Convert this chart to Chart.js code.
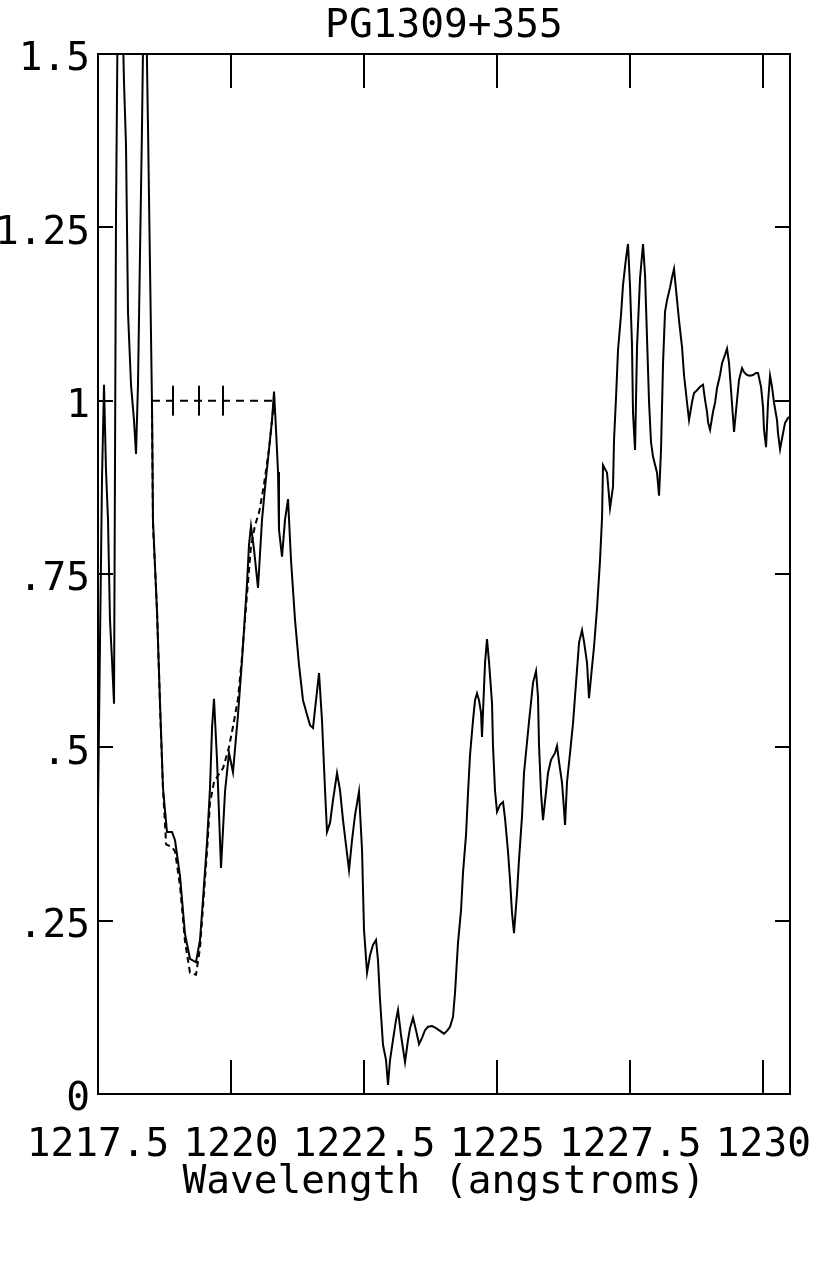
<!DOCTYPE html>
<html>
<head>
<meta charset="utf-8">
<script src="https://cdn.jsdelivr.net/npm/chart.js@4"></script>
<style>
html,body{margin:0;padding:0;background:#fff;}
#wrap{width:830px;height:1271px;position:relative;}
</style>
</head>
<body>
<div id="wrap"><canvas id="c"></canvas></div>
<script>
const chartTitle = 'PG1309+355';
const xAxisTitle = 'Wavelength (angstroms)';

const wavelength = [
1217.500,1217.538,1217.575,1217.613,1217.650,1217.688,1217.725,1217.763,1217.801,1217.838,
1217.876,1217.932,1217.988,1218.026,1218.064,1218.120,1218.176,1218.214,1218.251,1218.289,
1218.327,1218.364,1218.402,1218.439,1218.477,1218.514,1218.533,1218.608,1218.665,1218.721,
1218.796,1218.890,1218.947,1219.041,1219.134,1219.228,1219.341,1219.416,1219.473,1219.548,
1219.604,1219.642,1219.679,1219.736,1219.811,1219.886,1219.961,1220.036,1220.130,1220.205,
1220.299,1220.337,1220.374,1220.431,1220.506,1220.581,1220.637,1220.713,1220.769,1220.807,
1220.844,1220.882,1220.900,1220.957,1221.013,1221.070,1221.126,1221.201,1221.276,1221.351,
1221.427,1221.483,1221.539,1221.596,1221.652,1221.708,1221.765,1221.802,1221.859,1221.915,
1221.990,1222.047,1222.103,1222.159,1222.216,1222.272,1222.328,1222.403,1222.460,1222.497,
1222.554,1222.610,1222.666,1222.723,1222.760,1222.798,1222.854,1222.911,1222.948,1222.986,
1223.042,1223.099,1223.136,1223.192,1223.268,1223.324,1223.362,1223.418,1223.474,1223.531,
1223.587,1223.643,1223.700,1223.775,1223.850,1223.925,1224.000,1224.057,1224.113,1224.169,
1224.207,1224.263,1224.320,1224.357,1224.414,1224.451,1224.489,1224.545,1224.583,1224.620,
1224.658,1224.695,1224.714,1224.733,1224.771,1224.808,1224.846,1224.902,1224.921,1224.958,
1224.996,1225.052,1225.109,1225.146,1225.203,1225.240,1225.278,1225.315,1225.372,1225.409,
1225.466,1225.503,1225.560,1225.597,1225.635,1225.672,1225.729,1225.766,1225.785,1225.823,
1225.860,1225.917,1225.954,1226.011,1226.086,1226.123,1226.161,1226.217,1226.255,1226.274,
1226.311,1226.368,1226.424,1226.461,1226.499,1226.537,1226.593,1226.631,1226.687,1226.724,
1226.781,1226.818,1226.875,1226.931,1226.969,1226.987,1227.063,1227.119,1227.175,1227.194,
1227.232,1227.269,1227.326,1227.363,1227.420,1227.457,1227.495,1227.532,1227.551,1227.589,
1227.626,1227.683,1227.739,1227.777,1227.814,1227.852,1227.889,1227.927,1228.002,1228.040,
1228.077,1228.115,1228.152,1228.190,1228.246,1228.284,1228.321,1228.378,1228.415,1228.472,
1228.509,1228.566,1228.603,1228.660,1228.697,1228.753,1228.810,1228.866,1228.904,1228.941,
1228.960,1228.998,1229.054,1229.092,1229.129,1229.186,1229.223,1229.279,1229.317,1229.355,
1229.392,1229.430,1229.449,1229.505,1229.542,1229.599,1229.636,1229.693,1229.749,1229.805,
1229.862,1229.899,1229.956,1229.993,1230.012,1230.050,1230.087,1230.125,1230.162,1230.200,
1230.256,1230.275,1230.313,1230.369,1230.407,1230.463,1230.500
];
const flux = [
0.410,0.655,0.886,1.023,0.900,0.828,0.684,0.626,0.563,1.261,
1.620,1.660,1.460,1.369,1.127,1.023,0.972,0.923,1.023,1.212,
1.396,1.620,1.580,1.396,1.193,0.997,0.828,0.697,0.564,0.441,
0.378,0.378,0.366,0.314,0.231,0.195,0.190,0.222,0.281,0.363,
0.441,0.528,0.570,0.482,0.326,0.436,0.492,0.464,0.547,0.625,
0.736,0.792,0.819,0.785,0.730,0.828,0.874,0.930,0.972,1.013,
0.958,0.897,0.814,0.775,0.828,0.858,0.770,0.684,0.619,0.568,
0.547,0.532,0.528,0.568,0.607,0.539,0.438,0.378,0.391,0.424,
0.463,0.438,0.395,0.359,0.323,0.366,0.402,0.436,0.352,0.237,
0.175,0.200,0.215,0.222,0.193,0.136,0.071,0.049,0.013,0.049,
0.078,0.107,0.121,0.085,0.046,0.078,0.095,0.110,0.092,0.072,
0.081,0.092,0.097,0.098,0.095,0.091,0.087,0.091,0.097,0.111,
0.146,0.218,0.265,0.319,0.374,0.434,0.489,0.539,0.568,0.578,
0.568,0.550,0.515,0.551,0.622,0.656,0.623,0.564,0.501,0.438,
0.407,0.417,0.421,0.398,0.349,0.309,0.261,0.232,0.290,0.338,
0.401,0.463,0.508,0.537,0.565,0.593,0.610,0.573,0.503,0.434,
0.395,0.436,0.463,0.482,0.492,0.502,0.479,0.449,0.410,0.388,
0.450,0.492,0.535,0.573,0.612,0.651,0.669,0.652,0.622,0.571,
0.616,0.645,0.701,0.770,0.831,0.907,0.896,0.845,0.876,0.943,
1.005,1.073,1.124,1.167,1.206,1.226,1.164,1.080,0.982,0.929,
1.077,1.177,1.226,1.181,1.090,0.998,0.940,0.919,0.896,0.863,
0.929,1.054,1.128,1.145,1.163,1.178,1.190,1.145,1.116,1.077,
1.037,0.997,0.972,0.998,1.011,1.015,1.020,1.023,1.001,0.984,
0.969,0.958,0.984,0.997,1.018,1.037,1.054,1.066,1.075,1.054,
1.015,0.975,0.955,1.001,1.030,1.047,1.041,1.037,1.036,1.037,
1.040,1.040,1.020,0.991,0.958,0.933,0.997,1.036,1.020,0.997,
0.972,0.953,0.930,0.953,0.968,0.975,0.977
];

const modelWavelength = [
1218.514,1218.533,1218.608,1218.665,1218.721,1218.780,1218.890,1218.947,1219.041,1219.134,
1219.228,1219.341,1219.416,1219.473,1219.548,1219.604,1219.680,1219.760,1219.850,1219.960,
1220.036,1220.130,1220.205,1220.299,1220.374,1220.450,1220.530,1220.620,1220.713,1220.807
];
const modelFlux = [
0.997,0.820,0.700,0.560,0.440,0.360,0.356,0.350,0.300,0.220,
0.175,0.172,0.210,0.270,0.350,0.420,0.450,0.460,0.470,0.500,
0.530,0.570,0.630,0.720,0.790,0.820,0.840,0.880,0.930,1.000
];

const continuumWavelength = [1218.514, 1220.807];
const continuumFlux = [1.0, 1.0];

const lineWavelength = [1218.909, 1219.397, 1219.848];
const lineLevel = [1.0, 1.0, 1.0];

const xTicks = [1217.5, 1220, 1222.5, 1225, 1227.5, 1230];
const xTickLabels = ['1217.5', '1220', '1222.5', '1225', '1227.5', '1230'];
const yTicks = [0, 0.25, 0.5, 0.75, 1, 1.25, 1.5];
const yTickLabels = ['0', '.25', '.5', '.75', '1', '1.25', '1.5'];

const zip = (xs, ys) => xs.map((x, i) => ({x: x, y: ys[i]}));
const FONT = '"DejaVu Sans Mono", "Liberation Mono", monospace';
const FS = 39.5;

const framePlugin = {
  id: 'frameTicks',
  afterDatasetsDraw(chart) {
    const {ctx, chartArea: a, scales} = chart;
    ctx.save();
    ctx.strokeStyle = '#000';
    ctx.lineWidth = 2;
    ctx.strokeRect(a.left, a.top, a.right - a.left, a.bottom - a.top);
    ctx.beginPath();
    scales.x.ticks.forEach(t => {
      const px = Math.round(scales.x.getPixelForValue(t.value));
      if (px <= a.left + 1 || px >= a.right - 1) return;
      ctx.moveTo(px, a.bottom); ctx.lineTo(px, a.bottom - 34);
      ctx.moveTo(px, a.top); ctx.lineTo(px, a.top + 34);
    });
    scales.y.ticks.forEach(t => {
      const py = Math.round(scales.y.getPixelForValue(t.value));
      if (py <= a.top + 1 || py >= a.bottom - 1) return;
      ctx.moveTo(a.left, py); ctx.lineTo(a.left + 15, py);
      ctx.moveTo(a.right, py); ctx.lineTo(a.right - 15, py);
    });
    ctx.stroke();
    ctx.restore();
  }
};

new Chart(document.getElementById('c'), {
  type: 'line',
  data: {
    datasets: [
      {
        label: 'flux',
        data: zip(wavelength, flux),
        borderColor: '#000',
        borderWidth: 2,
        pointRadius: 0,
        tension: 0,
        fill: false
      },
      {
        label: 'model',
        data: zip(modelWavelength, modelFlux),
        borderColor: '#000',
        borderWidth: 2,
        borderDash: [6, 4],
        pointRadius: 0,
        tension: 0,
        fill: false
      },
      {
        label: 'continuum',
        data: zip(continuumWavelength, continuumFlux),
        borderColor: '#000',
        borderWidth: 2,
        borderDash: [8, 6],
        pointRadius: 0,
        fill: false
      },
      {
        label: 'lines',
        data: zip(lineWavelength, lineLevel),
        showLine: false,
        pointStyle: 'line',
        rotation: 90,
        pointRadius: 15,
        borderColor: '#000',
        backgroundColor: '#000',
        pointBorderWidth: 2,
        borderWidth: 2
      }
    ]
  },
  options: {
    responsive: true,
    maintainAspectRatio: false,
    animation: false,
    devicePixelRatio: 1,
    layout: { padding: { left: 0, right: 40, top: 0, bottom: 0 } },
    plugins: {
      legend: { display: false },
      tooltip: { enabled: false },
      title: {
        display: true,
        text: chartTitle,
        color: '#000',
        fullSize: false,
        font: { family: FONT, size: FS, weight: 'normal', lineHeight: 1.2 },
        padding: { top: 3, bottom: 3.6 }
      }
    },
    scales: {
      x: {
        type: 'linear',
        min: 1217.5,
        max: 1230.5,
        afterBuildTicks: s => { s.ticks = xTicks.map(v => ({value: v})); },
        afterFit: s => { s.height = 177; s.paddingLeft = 0; s.paddingRight = 0; },
        grid: { display: false, drawTicks: false },
        border: { display: false },
        ticks: {
          autoSkip: false,
          maxRotation: 0,
          minRotation: 0,
          padding: 28,
          color: '#000',
          font: { family: FONT, size: FS },
          callback: (v, i) => xTickLabels[i]
        },
        title: {
          display: true,
          text: xAxisTitle,
          color: '#000',
          font: { family: FONT, size: FS, lineHeight: 1.2 },
          padding: { top: 0, bottom: 65 }
        }
      },
      y: {
        type: 'linear',
        min: 0,
        max: 1.5,
        afterBuildTicks: s => { s.ticks = yTicks.map(v => ({value: v})); },
        afterFit: s => { s.width = 98; s.paddingTop = 0; s.paddingBottom = 0; },
        grid: { display: false, drawTicks: false },
        border: { display: false },
        ticks: {
          autoSkip: false,
          padding: 8,
          labelOffset: 6,
          color: '#000',
          font: { family: FONT, size: FS },
          callback: (v, i) => yTickLabels[i]
        }
      }
    }
  },
  plugins: [framePlugin]
});
</script>
</body>
</html>
